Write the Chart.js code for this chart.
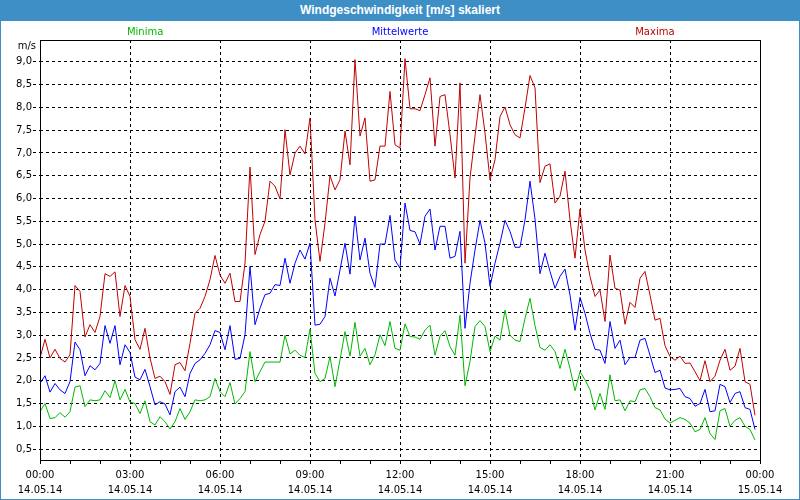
<!DOCTYPE html>
<html><head><meta charset="utf-8">
<script src="https://cdn.jsdelivr.net/npm/chart.js@4/dist/chart.umd.min.js"></script>
<style>
html,body{margin:0;padding:0;background:#fff;}
#wrap{position:relative;width:800px;height:500px;overflow:hidden;background:#fff;}
#chart{position:absolute;left:0;top:0;}
#titlebar{position:absolute;left:0;top:0;width:800px;height:21px;background:#3d8fc6;color:#fff;font:bold 12px "Liberation Sans",sans-serif;text-align:center;line-height:21px;}
#frame{position:absolute;left:0;top:0;width:800px;height:500px;box-sizing:border-box;border:1px solid #3d8fc6;pointer-events:none;}
</style></head>
<body><div id="wrap"><canvas id="chart" width="800" height="500"></canvas><div id="titlebar">Windgeschwindigkeit [m/s] skaliert</div><div id="frame"></div></div>
<script>
const stepMinutes = 10;
const maxima = [2.50,2.91,2.50,2.69,2.49,2.41,2.57,4.09,3.96,2.96,3.23,3.06,3.41,4.35,4.29,4.39,3.41,4.09,3.85,2.90,2.69,3.15,2.50,2.05,
2.10,1.98,1.70,2.35,2.40,2.22,2.82,3.48,3.59,3.85,4.22,4.75,4.32,4.14,4.36,3.74,3.74,4.58,6.69,4.77,5.21,5.50,6.38,6.27,
5.99,7.51,6.52,7.00,7.15,6.98,7.77,5.53,4.62,5.46,6.50,6.19,6.41,7.48,6.74,9.05,7.37,7.77,6.38,6.41,7.15,7.15,8.35,7.18,
7.11,9.07,7.97,7.97,7.93,8.28,8.65,7.15,8.24,8.28,7.40,6.45,8.54,4.58,6.45,7.37,8.28,7.44,6.41,6.85,7.80,8.01,7.62,7.40,
7.33,7.99,8.70,8.43,6.35,6.71,6.76,5.90,6.05,6.60,5.53,4.69,5.77,4.87,4.29,3.85,3.99,3.30,4.76,4.03,3.99,3.24,3.72,3.61,
4.25,4.40,3.88,3.33,3.37,2.77,2.53,2.45,2.54,2.38,2.39,2.20,2.00,2.44,1.98,2.10,2.45,2.69,2.23,2.32,2.71,1.98,1.92,1.24];
const mittelwerte = [1.94,2.11,1.75,1.94,1.80,1.72,1.98,2.85,2.68,2.11,2.33,2.24,2.38,3.21,2.82,3.21,2.35,2.79,2.62,2.08,2.02,2.25,1.87,1.47,
1.54,1.49,1.25,1.76,1.86,1.65,2.16,2.38,2.46,2.60,2.79,3.10,3.06,2.68,3.21,2.47,2.49,3.01,4.51,3.23,3.59,3.89,3.92,4.11,
4.09,4.69,4.14,4.58,4.87,4.67,5.02,3.22,3.24,3.41,4.25,3.86,4.43,5.02,4.34,5.61,4.65,5.13,4.36,4.05,5.00,5.00,5.63,4.65,
4.47,5.90,5.30,5.27,5.00,5.61,5.77,4.87,5.39,5.39,4.69,4.73,5.28,3.15,4.14,4.87,5.52,5.02,4.07,4.58,5.02,5.52,5.28,4.93,
4.93,5.53,6.38,5.55,4.35,4.80,4.40,4.03,4.29,4.45,3.88,3.11,3.83,3.48,3.04,2.69,2.67,2.38,3.30,2.71,2.89,2.35,2.51,2.51,
2.89,2.93,2.56,2.18,2.23,1.84,1.80,1.81,1.83,1.65,1.61,1.44,1.50,1.81,1.32,1.34,1.92,1.87,1.52,1.72,1.76,1.41,1.37,0.93];
const minima = [1.32,1.50,1.17,1.19,1.30,1.20,1.32,1.86,1.89,1.43,1.58,1.56,1.58,1.78,1.63,2.00,1.58,1.81,1.53,1.50,1.28,1.56,1.10,1.03,
1.21,1.10,0.94,1.10,1.39,1.15,1.32,1.58,1.56,1.58,1.65,2.05,1.76,1.65,1.96,1.49,1.61,1.76,2.64,1.98,2.20,2.41,2.41,2.41,
2.41,3.00,2.59,2.67,2.56,2.51,3.13,2.16,1.98,2.05,2.53,1.87,2.46,3.08,2.54,3.28,2.54,2.71,2.35,2.57,3.01,2.77,3.30,2.71,
2.67,3.25,2.97,2.96,2.91,3.11,3.22,2.56,2.98,3.10,2.75,2.56,3.44,1.89,2.42,3.19,3.32,3.19,2.64,2.98,2.89,3.55,3.00,2.89,
2.86,3.37,3.81,3.21,2.73,2.67,2.79,2.64,2.27,2.69,2.27,1.78,2.20,2.02,1.80,1.36,1.72,1.37,2.13,1.56,1.58,1.34,1.56,1.54,
1.80,1.83,1.65,1.41,1.36,1.16,1.07,1.13,1.19,1.15,1.07,0.88,0.93,1.19,0.84,0.71,1.34,1.39,1.00,1.13,1.19,1.00,0.93,0.70];
const xTickTimes = ['00:00','03:00','06:00','09:00','12:00','15:00','18:00','21:00','00:00'];
const xTickDates = ['14.05.14','14.05.14','14.05.14','14.05.14','14.05.14','14.05.14','14.05.14','14.05.14','15.05.14'];
const yTicks = [0.5,1.0,1.5,2.0,2.5,3.0,3.5,4.0,4.5,5.0,5.5,6.0,6.5,7.0,7.5,8.0,8.5,9.0];
const seriesNames = ['Minima','Mittelwerte','Maxima'];
const unitLabel = 'm/s';

const colMin = '#00b800', colMean = '#0000ff', colMax = '#c00000';
const toPts = arr => arr.map((v, i) => ({x: i * stepMinutes, y: v}));
const majorStep = 180;
const totalMinutes = (xTickTimes.length - 1) * majorStep;

const decorPlugin = {
  id: 'decor',
  afterDraw(chart) {
    const ctx = chart.ctx, a = chart.chartArea;
    ctx.save();
    ctx.strokeStyle = '#000';
    ctx.lineWidth = 1;
    ctx.strokeRect(Math.round(a.left) + 0.5, Math.round(a.top) + 0.5, Math.round(a.right - a.left), Math.round(a.bottom - a.top));
    ctx.font = '10px "DejaVu Sans"';
    ctx.textBaseline = 'middle';
    ctx.textAlign = 'center';
    const w = a.right - a.left;
    const fr = [0.146, 0.5, 0.854];
    const cols = [colMin, colMean, colMax];
    seriesNames.forEach((n, k) => {
      ctx.fillStyle = cols[k];
      ctx.fillText(n, a.left + w * fr[k], 32);
    });
    ctx.fillStyle = '#000';
    ctx.textAlign = 'right';
    ctx.fillText(unitLabel, 36, 46);
    ctx.restore();
  }
};

new Chart(document.getElementById('chart'), {
  type: 'line',
  data: {
    datasets: [
      {label: seriesNames[0], data: toPts(minima), borderColor: colMin},
      {label: seriesNames[1], data: toPts(mittelwerte), borderColor: colMean},
      {label: seriesNames[2], data: toPts(maxima), borderColor: colMax}
    ]
  },
  options: {
    responsive: false,
    animation: false,
    devicePixelRatio: 1,
    layout: {padding: {top: 40, right: 40, bottom: 0, left: 0}},
    elements: {line: {borderWidth: 1, tension: 0, fill: false}, point: {radius: 0}},
    plugins: {legend: {display: false}, tooltip: {enabled: false}, title: {display: false}},
    scales: {
      x: {
        type: 'linear', min: 0, max: totalMinutes,
        afterFit: s => { s.height = 40; },
        afterBuildTicks: s => { const t = []; for (let m = 0; m <= totalMinutes; m += 60) t.push({value: m}); s.ticks = t; },
        ticks: {
          autoSkip: false, maxRotation: 0, minRotation: 0, padding: 4, color: '#000',
          font: {family: 'DejaVu Sans', size: 10, lineHeight: '15px'},
          callback: v => (v % majorStep === 0) ? [xTickTimes[v / majorStep], xTickDates[v / majorStep]] : ''
        },
        grid: {
          color: c => (c.tick && c.tick.value % majorStep === 0) ? '#000' : 'rgba(0,0,0,0)',
          tickColor: '#000', tickLength: 4, lineWidth: 1, drawTicks: true
        },
        border: {display: false, dash: [3, 3]}
      },
      y: {
        type: 'linear', min: 0.26, max: 9.48,
        afterFit: s => { s.width = 40; },
        afterBuildTicks: s => { s.ticks = yTicks.map(v => ({value: v})); },
        ticks: {
          padding: 1, color: '#000',
          font: {family: 'DejaVu Sans', size: 10},
          callback: v => v.toFixed(1).replace('.', ',')
        },
        grid: {color: '#000', tickColor: '#000', tickLength: 7, lineWidth: 1, tickBorderDash: [3, 3]},
        border: {display: false, dash: [3, 3]}
      }
    }
  },
  plugins: [decorPlugin]
});
</script>
</body></html>
